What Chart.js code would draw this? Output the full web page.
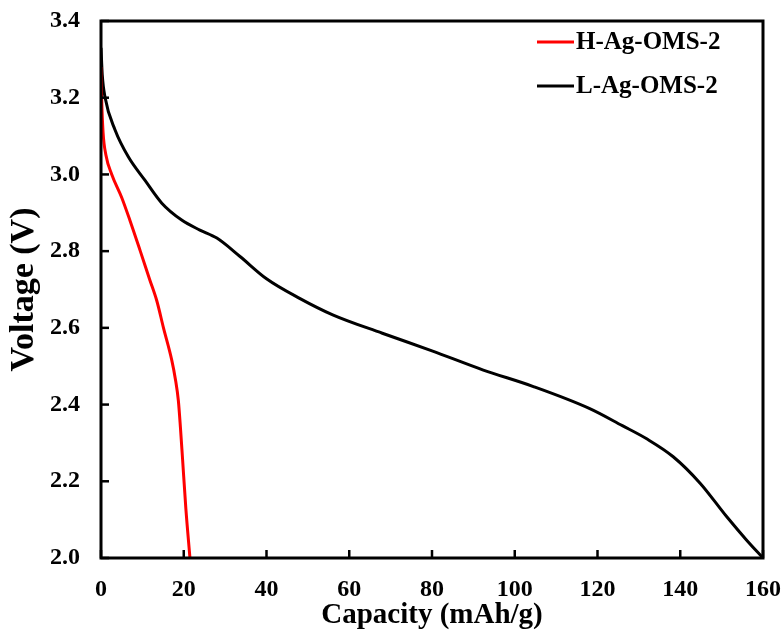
<!DOCTYPE html>
<html>
<head>
<meta charset="utf-8">
<script src="https://cdn.jsdelivr.net/npm/chart.js@4/dist/chart.umd.min.js"></script>
<style>
  html, body { margin: 0; padding: 0; background: #fff; }
  #wrap { width: 782px; height: 633px; }
</style>
</head>
<body>
<div id="wrap"><canvas id="c" width="782" height="633"></canvas></div>
<script>
// ---- data ----
const seriesNames = ['H-Ag-OMS-2', 'L-Ag-OMS-2'];
const seriesColors = ['#ff0000', '#000000'];

const hCapacity = [0, 0.15, 0.5, 1.2, 2.6, 5.0, 7.0, 9.5, 11.8, 13.5, 15.1, 17.1, 18.0, 18.7, 19.2, 19.7, 20.5, 21.5];
const hVoltage  = [3.28, 3.20, 3.11, 3.05, 3.00, 2.94, 2.88, 2.80, 2.725, 2.67, 2.60, 2.516, 2.465, 2.41, 2.34, 2.26, 2.13, 2.0];

const lCapacity = [0, 0.3, 1.0, 3.4, 6.6, 10.6, 14.7, 19.5, 23.9, 28, 33.6, 40, 48, 56, 68, 80, 92.4, 104.5, 118, 126, 132, 138.3, 144.8, 151.2, 156, 160];
const lVoltage  = [3.33, 3.26, 3.20, 3.116, 3.046, 2.985, 2.925, 2.881, 2.855, 2.834, 2.786, 2.728, 2.677, 2.634, 2.586, 2.54, 2.49, 2.447, 2.39, 2.345, 2.31, 2.264, 2.195, 2.108, 2.047, 2.0];

const xTicks = [0, 20, 40, 60, 80, 100, 120, 140, 160];
const yTicks = [2.0, 2.2, 2.4, 2.6, 2.8, 3.0, 3.2, 3.4];
const xTitle = 'Capacity (mAh/g)';
const yTitle = 'Voltage (V)';

// ---- build ----
const toPoints = (xs, ys) => xs.map((x, i) => ({ x: x, y: ys[i] }));
const FONT = "'Liberation Serif', 'Times New Roman', serif";

const framePlugin = {
  id: 'frameAndTicks',
  afterDatasetsDraw(chart) {
    const ctx = chart.ctx;
    const xs = chart.scales.x, ys = chart.scales.y;
    const L = xs.getPixelForValue(0), R = xs.getPixelForValue(160);
    const T = ys.getPixelForValue(3.4), B = ys.getPixelForValue(2.0);
    ctx.save();
    ctx.strokeStyle = '#000000';
    ctx.lineWidth = 3;
    ctx.beginPath();
    ctx.moveTo(L, T); ctx.lineTo(R, T); ctx.lineTo(R, B); ctx.lineTo(L, B); ctx.closePath();
    ctx.stroke();
    ctx.lineWidth = 2.5;
    const len = 8;
    xTicks.forEach(v => {
      const px = xs.getPixelForValue(v);
      ctx.beginPath(); ctx.moveTo(px, B); ctx.lineTo(px, B - len); ctx.stroke();
    });
    yTicks.forEach(v => {
      const py = ys.getPixelForValue(v);
      ctx.beginPath(); ctx.moveTo(L, py); ctx.lineTo(L + len, py); ctx.stroke();
    });
    ctx.font = "bold 25px " + FONT;
    ctx.textBaseline = 'middle';
    ctx.textAlign = 'left';
    chart.data.datasets.forEach((ds, i) => {
      const y = T + 21 + i * 44;
      const x0 = R - 226;
      ctx.strokeStyle = ds.borderColor;
      ctx.lineWidth = 3;
      ctx.beginPath(); ctx.moveTo(x0, y); ctx.lineTo(x0 + 37, y); ctx.stroke();
      ctx.fillStyle = '#000000';
      ctx.fillText(ds.label, x0 + 39, y + 1);
    });
    ctx.restore();
  }
};

new Chart(document.getElementById('c'), {
  type: 'scatter',
  data: {
    datasets: [
      { label: seriesNames[0], data: toPoints(hCapacity, hVoltage), borderColor: seriesColors[0], backgroundColor: seriesColors[0],
        showLine: true, pointRadius: 0, borderWidth: 3, cubicInterpolationMode: 'monotone' },
      { label: seriesNames[1], data: toPoints(lCapacity, lVoltage), borderColor: seriesColors[1], backgroundColor: seriesColors[1],
        showLine: true, pointRadius: 0, borderWidth: 3, cubicInterpolationMode: 'monotone' }
    ]
  },
  options: {
    responsive: false,
    animation: false,
    devicePixelRatio: 1,
    layout: { padding: { top: 21, right: 19, bottom: 0, left: 0 } },
    plugins: { legend: { display: false }, tooltip: { enabled: false } },
    scales: {
      x: {
        type: 'linear', min: 0, max: 160,
        afterBuildTicks(scale) { scale.ticks = xTicks.map(v => ({ value: v })); },
        afterFit(scale) { scale.height = 75; scale.paddingLeft = 0; scale.paddingRight = 0; },
        grid: { display: false, drawTicks: false },
        border: { display: false },
        ticks: { color: '#000', padding: 17, maxRotation: 0, font: { family: FONT, size: 24, weight: 'bold' },
                 callback: v => String(v) },
        title: { display: true, text: xTitle, color: '#000', padding: { top: 0, bottom: 0 },
                 font: { family: FONT, size: 29, weight: 'bold' } }
      },
      y: {
        type: 'linear', min: 2.0, max: 3.4,
        afterBuildTicks(scale) { scale.ticks = yTicks.map(v => ({ value: v })); },
        afterFit(scale) { scale.width = 101; scale.paddingTop = 0; scale.paddingBottom = 0; },
        grid: { display: false, drawTicks: false },
        border: { display: false },
        ticks: { color: '#000', padding: 21, font: { family: FONT, size: 24, weight: 'bold' },
                 callback: v => Number(v).toFixed(1) },
        title: { display: true, text: yTitle, color: '#000', padding: { top: 4, bottom: 0 },
                 font: { family: FONT, size: 34, weight: 'bold' } }
      }
    }
  },
  plugins: [framePlugin]
});
</script>
</body>
</html>
